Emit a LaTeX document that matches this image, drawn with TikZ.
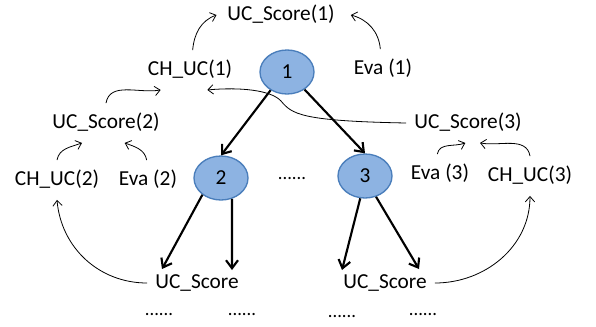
\documentclass[tikz,border=0pt]{standalone}
\usepackage{fontspec}
\setmainfont{Carlito}
\usepackage{tikz}
\usetikzlibrary{arrows.meta,shapes.geometric}
\definecolor{vertfill}{HTML}{8DB3E2}
\definecolor{vertline}{HTML}{4A7EBB}

\begin{document}
\begin{tikzpicture}[x=0.75pt,y=-0.75pt,>={Straight Barb[length=4pt,width=7pt]},
  lbl/.style={font=\fontsize{16}{19}\selectfont,inner xsep=6pt,inner ysep=7pt,text height=12pt,text depth=3.5pt},
  dotrow/.style={font=\fontsize{14}{16}\selectfont,anchor=base,inner sep=0pt},
  vert/.style={ellipse,draw=vertline,fill=vertfill,line width=1pt,minimum width=40.5pt,minimum height=33pt,inner sep=0pt,font=\fontsize{16}{19}\selectfont},
  tree/.style={->,line width=1.6pt,>={Straight Barb[length=6pt,width=9pt,line width=1.6pt]}},
  link/.style={->,line width=0.6pt}]
\useasboundingbox (0,0) rectangle (596,326);
% levels of the tree
\node[vert] (n1) at (287,72) {1};
\node[vert] (n2) at (221,178) {2};
\node[vert] (n3) at (365,176) {3};
\node[dotrow] (mid) at (292,179) {......};
% labels
\node[lbl] (uc1) at (281,15) {UC\_Score(1)};
\node[lbl] (ch1) at (190,70) {CH\_UC(1)};
\node[lbl] (eva1) at (383,69) {Eva (1)};
\node[lbl] (ucs2) at (106,123) {UC\_Score(2)};
\node[lbl] (ucs3) at (468,123) {UC\_Score(3)};
\node[lbl] (ch2) at (57,180) {CH\_UC(2)};
\node[lbl] (eva2) at (148,180) {Eva (2)};
\node[lbl] (eva3) at (440,174) {Eva (3)};
\node[lbl] (ch3) at (530,176) {CH\_UC(3)};
\node[lbl] (ucl) at (197,283) {UC\_Score};
\node[lbl] (ucr) at (385,283) {UC\_Score};
\node[dotrow] (d1) at (159,315) {......};
\node[dotrow] (d2) at (242,315) {......};
\node[dotrow] (d3) at (342,317) {......};
\node[dotrow] (d4) at (423,315) {......};
\coordinate (c2a) at (162,269);
\coordinate (c2b) at (232,270);
\coordinate (c3a) at (342,270);
\coordinate (c3b) at (419,269);
% tree edges
\draw[tree] (n1.228) -- (n2.north);
\draw[tree] (n1.-45) -- (n3.north);
\draw[tree] (n2.222) -- (c2a);
\draw[tree] (n2.-62) -- (c2b);
\draw[tree] (n3.-102) -- (c3a);
\draw[tree] (n3.-62) -- (c3b);
% score flow
\draw[link] ([xshift=2pt]ch1.north) to[out=85,in=200] ([xshift=-2pt]uc1.west);
\draw[link] ([xshift=-2pt]eva1.north) to[out=95,in=-15] ([xshift=6pt]uc1.east);
\draw[link] (ucs2.north) to[out=80,in=190] ([xshift=-22pt]ch1.south);
\draw[link] (ucs3.west) .. controls (300,121) and (292,114) .. (281,101)
  .. controls (271,90) and (240,87) .. ([xshift=13pt]ch1.south);
\draw[link] (ch2.north) to[out=80,in=200] ([xshift=-18pt]ucs2.south);
\draw[link] ([xshift=-1pt]eva2.north) to[out=100,in=-20] ([xshift=14pt]ucs2.south);
\draw[link] ([xshift=-2pt]eva3.north) to[out=80,in=200] ([xshift=-2pt]ucs3.south);
\draw[link] (ch3.north) to[out=100,in=-10] ([xshift=9pt]ucs3.south);
\draw[link] (ucl.west) to[out=180,in=-85] (ch2.south);
\draw[link] (ucr.east) to[out=0,in=-90] (ch3.south);
\end{tikzpicture}
\end{document}
